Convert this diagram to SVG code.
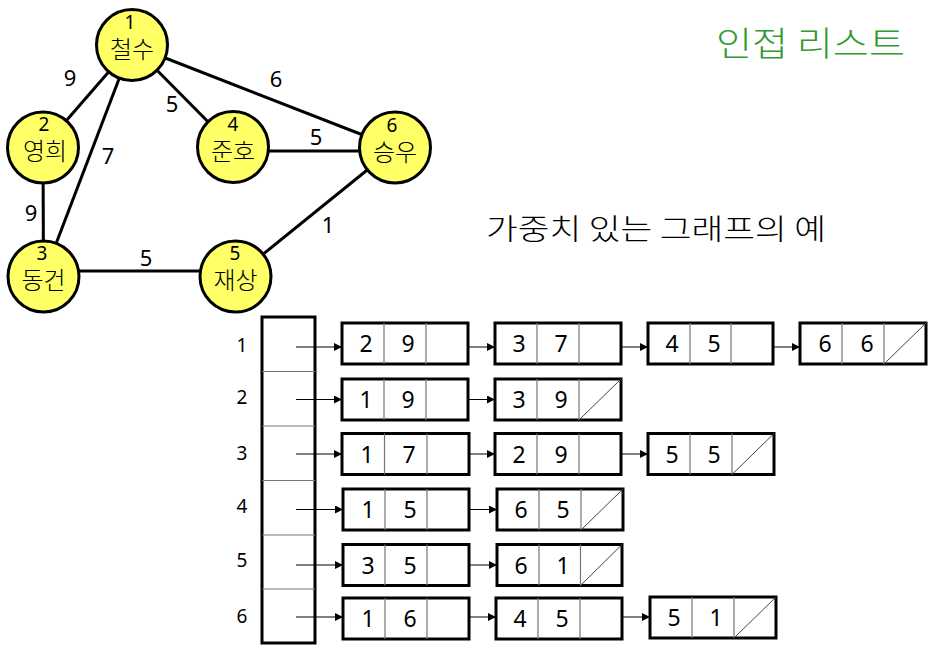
<svg xmlns="http://www.w3.org/2000/svg" width="939" height="651" viewBox="0 0 939 651">
<style>
.edge{stroke:#000;stroke-width:3;fill:none}
.circ{fill:#ffff66;stroke:#000;stroke-width:3}
.num{font-family:"Noto Sans","Open Sans",sans-serif;font-size:19px;text-anchor:middle;fill:#000}
.lbl{font-family:"Noto Sans","Open Sans",sans-serif;font-size:22px;text-anchor:middle;fill:#000}
.kr{font-family:"Noto Sans CJK KR",sans-serif;font-size:24px;font-weight:300;text-anchor:middle;fill:#000}
.box{fill:#fff;stroke:#000;stroke-width:3}
.div{stroke:#777;stroke-width:1.2}
.slash{stroke:#444;stroke-width:1}
.arr{stroke:#000;stroke-width:1.2;marker-end:url(#ah)}
.d{font-family:"Noto Sans","Open Sans",sans-serif;font-size:23px;text-anchor:middle;fill:#000}
.rl{font-family:"Noto Sans","Open Sans",sans-serif;font-size:19px;text-anchor:middle;fill:#000}
</style>
<defs>
<marker id="ah" viewBox="0 0 10 10" refX="10" refY="5" markerWidth="8" markerHeight="8" markerUnits="userSpaceOnUse" orient="auto">
<path d="M0,0 L10,5 L0,10 z" fill="#000"/>
</marker>
</defs>
<rect width="939" height="651" fill="#fff"/>
<g id="connectors">
<line class="edge" x1="132" y1="45" x2="43" y2="147.5"/>
<line class="edge" x1="132" y1="45" x2="43.5" y2="276.5"/>
<line class="edge" x1="132" y1="45" x2="233" y2="147"/>
<line class="edge" x1="132" y1="45" x2="395" y2="147.5"/>
<line class="edge" x1="43" y1="147.5" x2="43.5" y2="276.5"/>
<line class="edge" x1="233" y1="151" x2="395" y2="151"/>
<line class="edge" x1="43.5" y1="271" x2="235.5" y2="271"/>
<line class="edge" x1="235.5" y1="276.5" x2="395" y2="147.5"/>
</g>
<g id="edge-labels">
<text class="lbl" x="70" y="86">9</text>
<text class="lbl" x="172" y="112">5</text>
<text class="lbl" x="276" y="87">6</text>
<text class="lbl" x="108" y="164">7</text>
<text class="lbl" x="316" y="145">5</text>
<text class="lbl" x="31" y="221">9</text>
<text class="lbl" x="328" y="233">1</text>
<text class="lbl" x="146" y="266">5</text>
</g>
<g id="node1"><circle class="circ" cx="132" cy="45" r="35.5"/><text class="num" x="130" y="29">1</text><text class="kr" x="132" y="58">철수</text></g>
<g id="node2"><circle class="circ" cx="43" cy="147.5" r="35.5"/><text class="num" x="44" y="131">2</text><text class="kr" x="45" y="160">영희</text></g>
<g id="node3"><circle class="circ" cx="43.5" cy="276.5" r="35.5"/><text class="num" x="42" y="260">3</text><text class="kr" x="43.5" y="289">동건</text></g>
<g id="node4"><circle class="circ" cx="233" cy="147" r="35.5"/><text class="num" x="233" y="131">4</text><text class="kr" x="233" y="160">준호</text></g>
<g id="node5"><circle class="circ" cx="235.5" cy="276.5" r="35.5"/><text class="num" x="235" y="260">5</text><text class="kr" x="235.5" y="289">재상</text></g>
<g id="node6"><circle class="circ" cx="395" cy="147.5" r="35.5"/><text class="num" x="392" y="132">6</text><text class="kr" x="395" y="161">승우</text></g>
<g id="titles">
<text x="716" y="56" textLength="189" lengthAdjust="spacingAndGlyphs" style="font-family:'Noto Sans CJK KR',sans-serif;font-size:34px;font-weight:300;fill:#339933">인접 리스트</text>
<text x="486" y="240" textLength="340" lengthAdjust="spacingAndGlyphs" style="font-family:'Noto Sans CJK KR',sans-serif;font-size:29px;font-weight:300;fill:#000">가중치 있는 그래프의 예</text>
</g>
<g id="array">
<rect class="box" x="262" y="317" width="53" height="326"/>
<line class="div" x1="262" y1="371.5" x2="315" y2="371.5"/>
<line class="div" x1="262" y1="426" x2="315" y2="426"/>
<line class="div" x1="262" y1="480.5" x2="315" y2="480.5"/>
<line class="div" x1="262" y1="535" x2="315" y2="535"/>
<line class="div" x1="262" y1="589" x2="315" y2="589"/>
<text class="rl" x="242" y="352">1</text>
<text class="rl" x="242" y="404">2</text>
<text class="rl" x="242" y="460">3</text>
<text class="rl" x="242" y="513">4</text>
<text class="rl" x="242" y="567">5</text>
<text class="rl" x="242" y="623">6</text>
</g>
<g id="list-arrows">
<line class="arr" x1="296" y1="347" x2="342" y2="347"/>
<line class="arr" x1="448" y1="347" x2="495" y2="347"/>
<line class="arr" x1="601" y1="347" x2="648" y2="347"/>
<line class="arr" x1="754" y1="347" x2="800" y2="347"/>
<line class="arr" x1="296" y1="399.5" x2="342" y2="399.5"/>
<line class="arr" x1="448" y1="399.5" x2="495" y2="399.5"/>
<line class="arr" x1="296" y1="454" x2="342" y2="454"/>
<line class="arr" x1="448" y1="454" x2="495" y2="454"/>
<line class="arr" x1="602" y1="454" x2="648" y2="454"/>
<line class="arr" x1="296" y1="509.5" x2="343" y2="509.5"/>
<line class="arr" x1="450" y1="509.5" x2="497" y2="509.5"/>
<line class="arr" x1="296" y1="565" x2="343" y2="565"/>
<line class="arr" x1="450" y1="565" x2="497" y2="565"/>
<line class="arr" x1="296" y1="617" x2="343" y2="617"/>
<line class="arr" x1="450" y1="617" x2="496" y2="617"/>
<line class="arr" x1="604" y1="617" x2="650" y2="617"/>
</g>
<g id="row1">
<g id="n1a"><rect class="box" x="342" y="323" width="126" height="41"/><line class="div" x1="384" y1="323" x2="384" y2="364"/><line class="div" x1="426" y1="323" x2="426" y2="364"/><text class="d" x="366" y="352">2</text><text class="d" x="408" y="352">9</text></g>
<g id="n1b"><rect class="box" x="495" y="323" width="126" height="41"/><line class="div" x1="537" y1="323" x2="537" y2="364"/><line class="div" x1="579" y1="323" x2="579" y2="364"/><text class="d" x="519" y="352">3</text><text class="d" x="561" y="352">7</text></g>
<g id="n1c"><rect class="box" x="648" y="323" width="125" height="41"/><line class="div" x1="690" y1="323" x2="690" y2="364"/><line class="div" x1="731" y1="323" x2="731" y2="364"/><text class="d" x="672" y="352">4</text><text class="d" x="714" y="352">5</text></g>
<g id="n1d"><rect class="box" x="800" y="323" width="126" height="41"/><line class="div" x1="842" y1="323" x2="842" y2="364"/><line class="div" x1="884" y1="323" x2="884" y2="364"/><line class="slash" x1="884" y1="364" x2="926" y2="323"/><text class="d" x="825" y="352">6</text><text class="d" x="867" y="352">6</text></g>
</g>
<g id="row2">
<g id="n2a"><rect class="box" x="342" y="379" width="126" height="41"/><line class="div" x1="384" y1="379" x2="384" y2="420"/><line class="div" x1="426" y1="379" x2="426" y2="420"/><text class="d" x="366" y="408">1</text><text class="d" x="408" y="408">9</text></g>
<g id="n2b"><rect class="box" x="495" y="379" width="126" height="41"/><line class="div" x1="537" y1="379" x2="537" y2="420"/><line class="div" x1="579" y1="379" x2="579" y2="420"/><line class="slash" x1="579" y1="420" x2="621" y2="379"/><text class="d" x="519" y="408">3</text><text class="d" x="561" y="408">9</text></g>
</g>
<g id="row3">
<g id="n3a"><rect class="box" x="342" y="433.5" width="127" height="41"/><line class="div" x1="384.5" y1="433.5" x2="384.5" y2="474.5"/><line class="div" x1="427" y1="433.5" x2="427" y2="474.5"/><text class="d" x="367" y="462.5">1</text><text class="d" x="409" y="462.5">7</text></g>
<g id="n3b"><rect class="box" x="495" y="433.5" width="126" height="41"/><line class="div" x1="537" y1="433.5" x2="537" y2="474.5"/><line class="div" x1="579" y1="433.5" x2="579" y2="474.5"/><text class="d" x="519" y="462.5">2</text><text class="d" x="561" y="462.5">9</text></g>
<g id="n3c"><rect class="box" x="648" y="433.5" width="126" height="41"/><line class="div" x1="690" y1="433.5" x2="690" y2="474.5"/><line class="div" x1="732" y1="433.5" x2="732" y2="474.5"/><line class="slash" x1="732" y1="474.5" x2="774" y2="433.5"/><text class="d" x="672" y="462.5">5</text><text class="d" x="714" y="462.5">5</text></g>
</g>
<g id="row4">
<g id="n4a"><rect class="box" x="343" y="489" width="126" height="41"/><line class="div" x1="385" y1="489" x2="385" y2="530"/><line class="div" x1="427" y1="489" x2="427" y2="530"/><text class="d" x="368" y="518">1</text><text class="d" x="410" y="518">5</text></g>
<g id="n4b"><rect class="box" x="497" y="489" width="126" height="41"/><line class="div" x1="539" y1="489" x2="539" y2="530"/><line class="div" x1="581" y1="489" x2="581" y2="530"/><line class="slash" x1="581" y1="530" x2="623" y2="489"/><text class="d" x="521" y="518">6</text><text class="d" x="563" y="518">5</text></g>
</g>
<g id="row5">
<g id="n5a"><rect class="box" x="343" y="544.5" width="126" height="41"/><line class="div" x1="385" y1="544.5" x2="385" y2="585.5"/><line class="div" x1="427" y1="544.5" x2="427" y2="585.5"/><text class="d" x="368" y="573.5">3</text><text class="d" x="410" y="573.5">5</text></g>
<g id="n5b"><rect class="box" x="497" y="544.5" width="125" height="41"/><line class="div" x1="539" y1="544.5" x2="539" y2="585.5"/><line class="div" x1="580.5" y1="544.5" x2="580.5" y2="585.5"/><line class="slash" x1="580.5" y1="585.5" x2="622" y2="544.5"/><text class="d" x="521" y="573.5">6</text><text class="d" x="563" y="573.5">1</text></g>
</g>
<g id="row6">
<g id="n6a"><rect class="box" x="343" y="598" width="126" height="41"/><line class="div" x1="385" y1="598" x2="385" y2="639"/><line class="div" x1="427" y1="598" x2="427" y2="639"/><text class="d" x="368" y="627">1</text><text class="d" x="410" y="627">6</text></g>
<g id="n6b"><rect class="box" x="496" y="598" width="126" height="41"/><line class="div" x1="538" y1="598" x2="538" y2="639"/><line class="div" x1="580" y1="598" x2="580" y2="639"/><text class="d" x="520" y="627">4</text><text class="d" x="562" y="627">5</text></g>
<g id="n6c"><rect class="box" x="650" y="597" width="126" height="41"/><line class="div" x1="692" y1="597" x2="692" y2="638"/><line class="div" x1="734" y1="597" x2="734" y2="638"/><line class="slash" x1="734" y1="638" x2="776" y2="597"/><text class="d" x="674" y="626">5</text><text class="d" x="716" y="626">1</text></g>
</g>
</svg>
